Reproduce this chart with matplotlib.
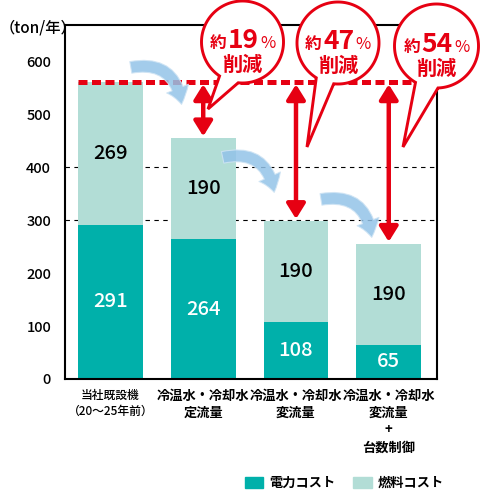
import numpy as np
import matplotlib
matplotlib.use('Agg')
import matplotlib.pyplot as plt
from matplotlib.patches import Patch, Polygon, FancyArrowPatch
from matplotlib.offsetbox import TextArea, HPacker, VPacker, AnnotationBbox

plt.rcParams['font.family'] = ['Noto Sans CJK JP', 'DejaVu Sans']

# data
categories = ['当社既設機\n（20～25年前）', '冷温水・冷却水\n定流量',
              '冷温水・冷却水\n変流量', '冷温水・冷却水\n変流量\n+\n台数制御']
power = [291, 264, 108, 65]
fuel = [269, 190, 190, 190]
reduction = ['19', '47', '54']
series_names = ['電力コスト', '燃料コスト']
yticks = [0, 100, 200, 300, 400, 500, 600]

c_power = '#00b0aa'
c_fuel = '#b2ddd6'
red = '#e60012'
blue = '#93c3e8'

totals = np.add(power, fuel)
x = np.arange(len(categories))

fig = plt.figure(figsize=(4.81, 4.93), dpi=100)
ax = fig.add_axes([65/481, 114/493, 372/481, 354/493])

ax.bar(x, power, width=0.7, color=c_power, zorder=2)
ax.bar(x, fuel, bottom=power, width=0.7, color=c_fuel, zorder=2)
ax.set_xlim(-0.49, 3.52)
ax.set_ylim(0, 668)

for g in [300, 400]:
    ax.axhline(g, color='black', lw=0.8, ls=(0, (4, 4)), zorder=1)

# values in the segments
for i in range(len(x)):
    ax.text(x[i], power[i] / 2, str(power[i]), ha='center', va='center',
            color='white', fontsize=14.5, fontweight='medium', zorder=3)
    ax.text(x[i], power[i] + fuel[i] / 2, str(fuel[i]), ha='center', va='center',
            color='black', fontsize=14.5, fontweight='medium', zorder=3)

ax.set_yticks(yticks)
ax.set_yticklabels([str(v) for v in yticks], fontsize=10.5, fontweight='medium')
ax.set_xticks(x, categories, fontsize=9.5, fontweight='bold', linespacing=1.3)
lbls = ax.get_xticklabels()
lbls[0].set_fontsize(8.5)
lbls[0].set_fontweight('medium')
ax.tick_params(axis='y', length=0, pad=10)
ax.tick_params(axis='x', length=0, pad=7)
for s in ax.spines.values():
    s.set_linewidth(1.5)
    s.set_color('black')

# red dashed reference line at the old total
ax.plot([-0.35, 3.45], [totals[0], totals[0]], color=red, lw=3.6,
        ls=(0, (1.8, 0.9)), solid_capstyle='butt', dash_capstyle='butt', zorder=4)

# blue curved arrows between bars
arr_start = [(0.19, 587), (1.18, 417), (2.24, 338)]
arr_end = [(0.77, 513), (1.77, 347), (2.82, 262)]
for a, b in zip(arr_start, arr_end):
    ax.add_patch(FancyArrowPatch(a, b, connectionstyle='arc3,rad=-0.55',
                                 arrowstyle='simple,head_length=0.9,head_width=1.3,tail_width=0.65',
                                 mutation_scale=13, facecolor=blue, edgecolor='#cfe4f4',
                                 lw=0.8, alpha=0.85, zorder=5))

# red double arrows showing the reduction
for i in range(1, len(x)):
    ax.add_patch(FancyArrowPatch((x[i], totals[0]), (x[i], totals[i]),
                                 arrowstyle='<|-|>,head_length=0.45,head_width=0.28',
                                 mutation_scale=20, lw=3.2, color=red,
                                 shrinkA=1.5, shrinkB=1.5, zorder=6))

fig.text(0.0, 1 - 28/493, '（ton/年）', ha='left', va='center', fontsize=11,
         fontweight='medium')

fig.legend(handles=[Patch(color=c_power, label=series_names[0]),
                    Patch(color=c_fuel, label=series_names[1])],
           loc='center left', bbox_to_anchor=(245/481, 10/493), ncol=2, frameon=False,
           prop=dict(family=['Noto Sans CJK JP', 'DejaVu Sans'], weight='bold', size=9.5),
           handlelength=1.4, handleheight=0.9, handletextpad=0.4, columnspacing=1.4,
           borderpad=0, borderaxespad=0)

# speech bubbles, drawn in pixel space on top
ov = fig.add_axes([0, 0, 1, 1], zorder=5)
ov.set_xlim(0, 481)
ov.set_ylim(493, 0)
ov.axis('off')

bubbles = [((242.5, 42), 41, (96, 124), (208, 109)),
           ((338, 43), 41, (96, 122), (307, 147)),
           ((436.5, 46), 42, (88, 120), (403, 147))]
for (c, r, (lo, hi), tip), pct in zip(bubbles, reduction):
    t = np.radians(np.linspace(hi, lo + 360, 200))
    pts = np.column_stack([c[0] + r * np.cos(t), c[1] + r * np.sin(t)])
    pts = np.vstack([pts, tip])
    ov.add_patch(Polygon(pts, closed=True, facecolor='white', edgecolor=red,
                         lw=2.1, joinstyle='miter'))
    row = HPacker(children=[TextArea('約', textprops=dict(color=red, fontsize=12, fontweight='bold')),
                            TextArea(pct, textprops=dict(color=red, fontsize=19, fontweight='bold')),
                            TextArea('%', textprops=dict(color=red, fontsize=12))],
                  align='baseline', pad=0, sep=1)
    box = VPacker(children=[row,
                            TextArea('削減', textprops=dict(color=red, fontsize=14.5, fontweight='bold'))],
                  align='center', pad=0, sep=0)
    ov.add_artist(AnnotationBbox(box, (c[0], c[1] + 9), xycoords='data', frameon=False,
                                 box_alignment=(0.5, 0.5)))

fig.savefig('out.png', dpi=100)
